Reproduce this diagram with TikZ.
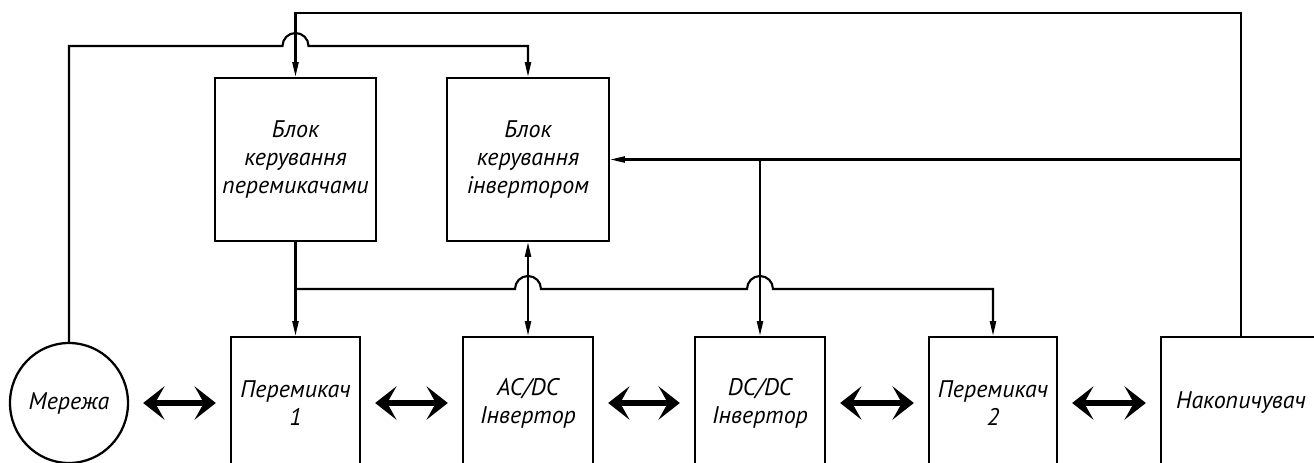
\documentclass[tikz,border=0pt]{standalone}
\usepackage{fontspec}
\setmainfont{PT Sans}
\usepackage{pgf,tikz}
\usetikzlibrary{arrows.meta,shapes.geometric}

\begin{document}
\begin{tikzpicture}[line cap=butt,line join=miter,x=0.75pt,y=-0.75pt,
		txt/.style={font=\itshape\fontsize{18}{21}\selectfont,align=center},
		blok/.style={txt,draw,rectangle,line width=1.7pt,inner sep=0pt},
		lnk/.style={line width=1.6pt},
		arr/.style={lnk,-{Triangle[length=11pt,width=4.5pt]}},
		darr/.style={lnk,{Triangle[length=11pt,width=4.5pt]}-{Triangle[length=11pt,width=4.5pt]}},
		tarr/.style={line width=4.5pt,{Stealth[length=16pt,width=25pt,inset=7pt]}-{Stealth[length=16pt,width=25pt,inset=7pt]},shorten <=10.5pt,shorten >=10.5pt}]
			\useasboundingbox (0,0) rectangle (1314,463);
			\clip (0,0) rectangle (1314,463);
			
			\node[blok,minimum width=120.75pt,minimum height=122.25pt] (bkp) at (295.5,159.5) {Блок\\керування\\перемикачами};
			\node[blok,minimum width=121.5pt,minimum height=122.25pt] (bki) at (528,159.5) {Блок\\керування\\інвертором};
			
			\node[txt,draw,ellipse,line width=1.7pt,minimum width=88.5pt,minimum height=90pt,inner sep=0pt] (mer) at (69,403) {Мережа};
			\node[blok,minimum width=96.75pt,minimum height=99pt] (per1) at (295.5,403) {Перемикач\\1};
			\node[blok,minimum width=97.5pt,minimum height=99pt] (acdc) at (528,403) {AC/DC\\Інвертор};
			\node[blok,minimum width=97.5pt,minimum height=99pt] (dcdc) at (760,403) {DC/DC\\Інвертор};
			\node[blok,minimum width=96pt,minimum height=99pt] (per2) at (993,403) {Перемикач\\2};
			\node[blok,minimum width=120pt,minimum height=99pt] (nak) at (1241,403) {Накопичувач};
			
			\coordinate (top) at (0,13);
			\coordinate (lvl) at (0,46);
			\coordinate (bus) at (0,289);
			\coordinate (h1) at (bkp.north |- lvl);
			\coordinate (h2) at (bki.south |- bus);
			\coordinate (h3) at (dcdc.north |- bus);
			
			\draw[arr] (nak.north) -- (nak.north |- top) -- (bkp.north |- top) -- (bkp.north);
			\draw[arr] (nak.north |- bki.east) -- (bki.east);
			\draw[arr] (dcdc.north |- bki.east) -- (dcdc.north);
			\draw[arr] (mer.north) -- (mer.north |- lvl) -- ([xshift=-9.75pt]h1) arc[start angle=180,end angle=0,radius=9.75pt] -- (bki.north |- lvl) -- (bki.north);
			
			\draw[arr] (bkp.south) -- (per1.north);
			\draw[darr] (bki.south) -- (acdc.north);
			\draw[arr] (bkp.south |- bus) -- ([xshift=-9.75pt]h2) arc[start angle=180,end angle=0,radius=9.75pt] -- ([xshift=-9.75pt]h3) arc[start angle=180,end angle=0,radius=9.75pt] -- (per2.north |- bus) -- (per2.north);
			
			\draw[tarr] (mer) -- (per1);
			\draw[tarr] (per1) -- (acdc);
			\draw[tarr] (acdc) -- (dcdc);
			\draw[tarr] (dcdc) -- (per2);
			\draw[tarr] (per2) -- (nak);
		\end{tikzpicture}
\end{document}
